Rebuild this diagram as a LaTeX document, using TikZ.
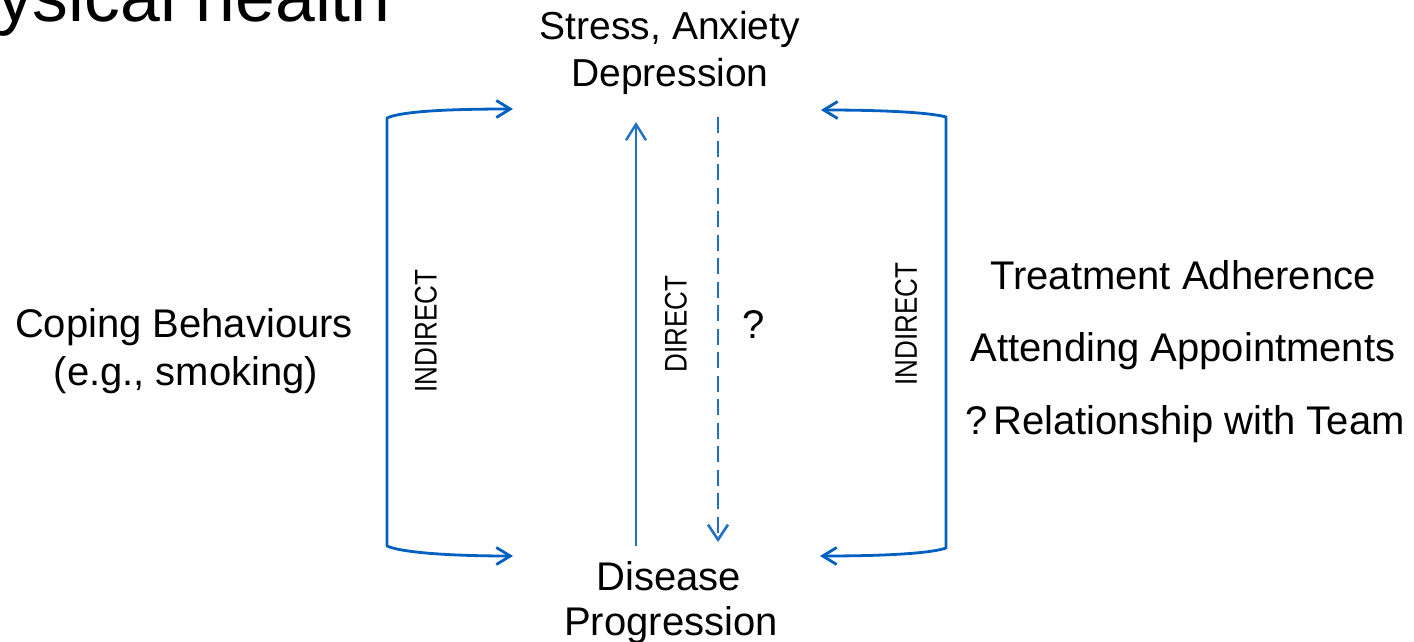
\documentclass[tikz,border=0pt]{standalone}
\usepackage{fontspec}
\setmainfont{Liberation Sans}
\usetikzlibrary{arrows.meta}
\definecolor{lineblue}{RGB}{0,96,192}
\definecolor{midblue}{RGB}{32,112,200}
\begin{document}
\begin{tikzpicture}[x=1pt,y=-1pt,
  txt/.style={inner sep=0pt, font=\fontsize{40}{46}\selectfont, anchor=base},
  vlbl/.style={inner sep=0pt, rotate=90, font=\fontsize{26}{30}\selectfont},
  bracket/.style={draw=lineblue, line width=2.8pt, line join=round,
    arrows={Straight Barb[length=14pt,width=17pt]-Straight Barb[length=14pt,width=17pt]}},
  uparrow/.style={draw=midblue, line width=2.4pt,
    arrows={-Straight Barb[length=16pt,width=20pt]}},
  dasharrow/.style={draw=midblue, line width=2.6pt, dash pattern=on 16pt off 7.5pt,
    arrows={-Straight Barb[length=15pt,width=20pt]}}]
\useasboundingbox (0,0) rectangle (1414,642);
% title (cropped at the top edge, as in the reference)
\node[inner sep=0pt, anchor=base west, font=\fontsize{71.5}{86}\selectfont] (title) at (-3,22) {ysical health};
% main texts
\node[txt, font=\fontsize{39}{46}\selectfont] (stress) at (670,40) {Stress, Anxiety};
\node[txt, font=\fontsize{39}{46}\selectfont] (depr) at (670,86) {Depression};
\node[txt] (dis) at (669,590) {Disease};
\node[txt] (prog) at (671,635) {Progression};
\node[txt] (cope) at (184,337) {Coping Behaviours};
\node[txt] (eg) at (186,385) {(e.g., smoking)};
\node[txt] (treat) at (1183,289) {Treatment Adherence};
\node[txt] (attend) at (1183,361) {Attending Appointments};
\node[txt] (rel) at (1185,434) {?\hspace{0.15em}Relationship with Team};
\node[txt] (q) at (754,338) {?};
% rotated labels
\node[vlbl] (ind1) at (426,331) {\scalebox{1}[1.2]{INDIRECT}};
\node[vlbl] (dir) at (676,324) {\scalebox{1}[1.2]{DIRECT}};
\node[vlbl] (ind2) at (906,324) {\scalebox{1}[1.2]{INDIRECT}};
% bracket coordinates
\coordinate (ltip) at (513,109);
\coordinate (ltc) at (387,118);
\coordinate (lbc) at (387,546);
\coordinate (lbtip) at (513,556);
\coordinate (rtip) at (821,110);
\coordinate (rtc) at (946,117);
\coordinate (rbc) at (946,548);
\coordinate (rbtip) at (820,556);
\draw[bracket] (ltip) .. controls (440,109) and (400,112) .. (ltc) -- (lbc) .. controls (400,552) and (445,556) .. (lbtip);
\draw[bracket] (rtip) .. controls (890,110) and (932,113) .. (rtc) -- (rbc) .. controls (932,553) and (890,556) .. (rbtip);
% centre arrows
\coordinate (ua) at (636,546);
\coordinate (ub) at (636,122);
\coordinate (da) at (718,117);
\coordinate (db) at (718,542);
\draw[uparrow] (ua) -- (ub);
\draw[dasharrow] (da) -- (db);
\end{tikzpicture}
\end{document}
